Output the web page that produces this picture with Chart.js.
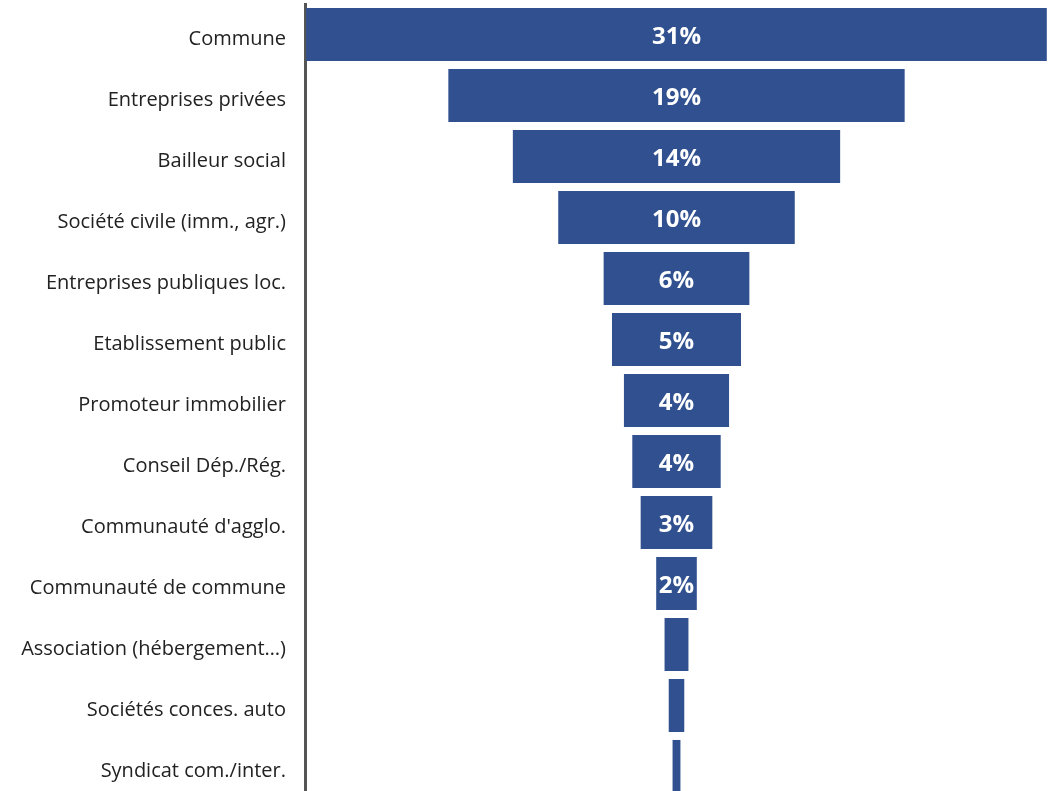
<!DOCTYPE html>
<html>
<head>
<meta charset="utf-8">
<script src="https://cdn.jsdelivr.net/npm/chart.js@4/dist/chart.umd.min.js"></script>
<style>
html,body{margin:0;padding:0;background:#fff;overflow:hidden;}
#wrap{width:1053px;height:797px;position:relative;}
</style>
</head>
<body>
<div id="wrap"><canvas id="c" width="1053" height="797"></canvas></div>
<script>
const categories = ["Commune","Entreprises privées","Bailleur social","Société civile (imm., agr.)","Entreprises publiques loc.","Etablissement public","Promoteur immobilier","Conseil Dép./Rég.","Communauté d'agglo.","Communauté de commune","Association (hébergement…)","Sociétés conces. auto","Syndicat com./inter."];
const shares = [31, 19.1, 13.7, 9.9, 6.1, 5.4, 4.4, 3.7, 3.0, 1.7, 1.0, 0.65, 0.33];
const shownLabelMin = 1.5;

const funnelData = shares.map(v => [-v/2, v/2]);

const labelPlugin = {
  id: 'funnelLabels',
  afterDatasetsDraw(chart) {
    const ctx = chart.ctx;
    const meta = chart.getDatasetMeta(0);
    ctx.save();
    ctx.fillStyle = '#ffffff';
    ctx.font = 'bold 24px "Open Sans", sans-serif';
    ctx.textAlign = 'center';
    ctx.textBaseline = 'middle';
    meta.data.forEach((bar, i) => {
      const v = shares[i];
      if (v < shownLabelMin) return;
      const p = bar.getProps(['x','base','y'], true);
      const cx = (p.x + p.base) / 2;
      ctx.fillText(Math.round(v) + '%', cx, p.y + 3);
    });
    ctx.restore();
  }
};

new Chart(document.getElementById('c'), {
  type: 'bar',
  data: {
    labels: categories,
    datasets: [{
      data: funnelData,
      backgroundColor: '#30508F',
      borderWidth: 0,
      borderSkipped: false,
      barPercentage: 0.87,
      categoryPercentage: 1.0
    }]
  },
  options: {
    indexAxis: 'y',
    responsive: false,
    animation: false,
    layout: { padding: { top: 4, bottom: 0, left: 0, right: 5 } },
    plugins: { legend: { display: false }, tooltip: { enabled: false } },
    scales: {
      x: { display: false, min: -15.55, max: 15.55 },
      y: {
        afterFit(s) { s.width = 305; s.paddingTop = 0; s.paddingBottom = 0; },
        grid: { display: true, color: 'rgba(0,0,0,0)', drawTicks: false },
        border: { display: true, color: '#555555', width: 3 },
        ticks: {
          color: '#222222',
          padding: 19,
          labelOffset: 5,
          font: { family: '"Open Sans", sans-serif', size: 20 }
        }
      }
    }
  },
  plugins: [labelPlugin]
});
</script>
</body>
</html>
